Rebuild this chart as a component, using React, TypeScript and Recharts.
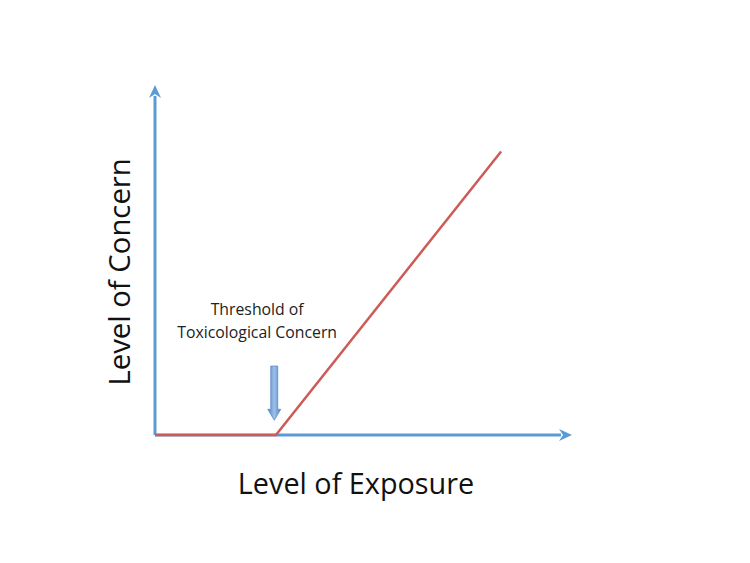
import React from 'react';
import { ComposedChart, Line, XAxis, YAxis, ReferenceLine, ReferenceDot } from 'recharts';

const exposure = [0, 29, 83];
const concern = [0, 0, 81];
const xDomain = [0, 100];
const yDomain = [0, 100];
const axisEnds = { x: 100, y: 100 };
const thresholdX = 28.6;
const thresholdArrow = { from: 19.7, to: 4.2 };
const thresholdText = ['Threshold of', 'Toxicological Concern'];
const thresholdTextPos = { x: 24.5, y: 34.3 };
const xTitle = 'Level of Exposure';
const yTitle = 'Level of Concern';
const xTitlePos = { x: 48.2, y: -13.7 };
const yTitlePos = { x: -8.6, y: 46.6 };

const data = exposure.map((e, i) => ({ exposure: e, concern: concern[i] }));

const AXIS = '#5b9bd5';
const RED = '#cd5b57';
const FONT = '"Open Sans", Calibri, sans-serif';

const ArrowLine = (props: any) => {
  const { x1, y1, x2, y2 } = props;
  const dx = x2 - x1;
  const dy = y2 - y1;
  const len = Math.sqrt(dx * dx + dy * dy) || 1;
  const ux = dx / len;
  const uy = dy / len;
  const head = 13;
  const half = 6;
  const bx = x2 - ux * head;
  const by = y2 - uy * head;
  const px = -uy;
  const py = ux;
  return (
    <g>
      <line x1={x1} y1={y1} x2={bx + ux * 2} y2={by + uy * 2} stroke={AXIS} strokeWidth={3} />
      <polygon
        points={`${x2},${y2} ${bx + px * half},${by + py * half} ${bx + ux * 4},${by + uy * 4} ${bx - px * half},${by - py * half}`}
        fill={AXIS}
      />
    </g>
  );
};

const BlockArrow = (props: any) => {
  const { x1, y1, y2 } = props;
  const top = Math.min(y1, y2);
  const tip = Math.max(y1, y2);
  const headLen = 11;
  const shaftHalf = 3.5;
  const headHalf = 6.5;
  const cx = x1;
  const d = `M${cx - shaftHalf},${top} L${cx + shaftHalf},${top} L${cx + shaftHalf},${tip - headLen} L${cx + headHalf},${tip - headLen} L${cx},${tip} L${cx - headHalf},${tip - headLen} L${cx - shaftHalf},${tip - headLen} Z`;
  return (
    <g>
      <defs>
        <linearGradient id="blockGrad" x1="0" y1="0" x2="1" y2="0">
          <stop offset="0%" stopColor="#4a82c4" />
          <stop offset="50%" stopColor="#9fc1ea" />
          <stop offset="100%" stopColor="#4a82c4" />
        </linearGradient>
      </defs>
      <path d={d} fill="url(#blockGrad)" stroke="#5f8fca" strokeWidth={0.8} />
    </g>
  );
};

const ThresholdLabel = (props: any) => {
  const { viewBox } = props;
  const cx = viewBox.x + (viewBox.width || 0) / 2;
  const cy = viewBox.y + (viewBox.height || 0) / 2;
  return (
    <text x={cx} y={cy} textAnchor="middle" fontFamily={FONT} fontSize={15.8} fill="#222">
      {thresholdText.map((t, i) => (
        <tspan key={i} x={cx} dy={i === 0 ? 0 : 23}>
          {t}
        </tspan>
      ))}
    </text>
  );
};

const XTitle = (props: any) => {
  const { viewBox } = props;
  const cx = viewBox.x + (viewBox.width || 0) / 2;
  const cy = viewBox.y + (viewBox.height || 0) / 2;
  return (
    <text x={cx} y={cy} textAnchor="middle" dominantBaseline="central" fontFamily={FONT} fontSize={28.8} fill="#111">
      {xTitle}
    </text>
  );
};

const YTitle = (props: any) => {
  const { viewBox } = props;
  const cx = viewBox.x + (viewBox.width || 0) / 2;
  const cy = viewBox.y + (viewBox.height || 0) / 2;
  return (
    <text
      x={cx}
      y={cy}
      textAnchor="middle"
      dominantBaseline="central"
      fontFamily={FONT}
      fontSize={29.3}
      fill="#111"
      transform={`rotate(-90 ${cx} ${cy})`}
    >
      {yTitle}
    </text>
  );
};

export default function App() {
  return (
    <div style={{ position: 'absolute', left: 0, top: 0, width: 750, height: 563, background: '#fff' }}>
      <ComposedChart width={750} height={563} data={data} margin={{ top: 85, right: 178, bottom: 128, left: 155 }}>
        <XAxis dataKey="exposure" type="number" domain={xDomain} hide />
        <YAxis type="number" domain={yDomain} hide />
        <ReferenceLine
          segment={[{ x: 0, y: 0 }, { x: 0, y: axisEnds.y }]}
          ifOverflow="visible"
          shape={<ArrowLine />}
        />
        <ReferenceLine
          segment={[{ x: 0, y: 0 }, { x: axisEnds.x, y: 0 }]}
          ifOverflow="visible"
          shape={<ArrowLine />}
        />
        <Line
          dataKey="concern"
          type="linear"
          stroke={RED}
          strokeWidth={2.5}
          dot={false}
          activeDot={false}
          isAnimationActive={false}
        />
        <ReferenceLine
          segment={[{ x: thresholdX, y: thresholdArrow.from }, { x: thresholdX, y: thresholdArrow.to }]}
          ifOverflow="visible"
          shape={<BlockArrow />}
        />
        <ReferenceDot
          x={thresholdTextPos.x}
          y={thresholdTextPos.y}
          r={0}
          ifOverflow="visible"
          label={<ThresholdLabel />}
        />
        <ReferenceDot x={xTitlePos.x} y={xTitlePos.y} r={0} ifOverflow="visible" label={<XTitle />} />
        <ReferenceDot x={yTitlePos.x} y={yTitlePos.y} r={0} ifOverflow="visible" label={<YTitle />} />
      </ComposedChart>
    </div>
  );
}
